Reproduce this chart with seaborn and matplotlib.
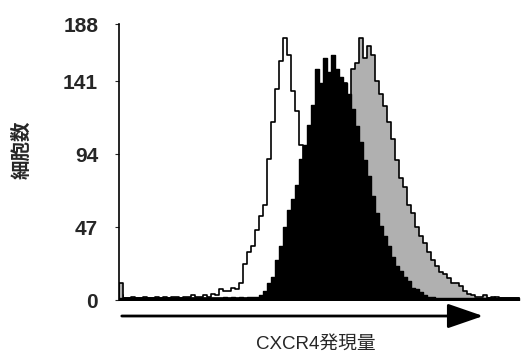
import numpy as np
import pandas as pd
import seaborn as sns
import matplotlib.pyplot as plt

# flow cytometry histograms, 100 channels (4 units wide each)
control = [3, 1, 1, 2, 1, 1, 2, 1, 1, 2,
           1, 2, 1, 2, 2, 1, 2, 2, 3, 2,
           2, 3, 2, 4, 3, 7, 6, 6, 8, 7,
           11, 23, 31, 35, 45, 54, 61, 91, 115, 136,
           154, 169, 158, 135, 122, 100, 82, 63, 45, 30,
           19, 11, 7, 4, 3, 2, 2, 1, 2, 1,
           1, 2, 1, 1, 2, 1, 1, 2, 1, 1,
           2, 1, 1, 1, 2, 1, 1, 1, 2, 1,
           1, 1, 2, 1, 1, 1, 1, 2, 1, 1,
           1, 1, 1, 2, 1, 1, 1, 1, 1, 1]

black = [1, 1, 1, 1, 1, 1, 1, 1, 1, 1,
         1, 1, 1, 1, 1, 1, 1, 1, 1, 1,
         1, 1, 1, 1, 1, 1, 2, 1, 2, 1,
         2, 1, 2, 2, 2, 3, 6, 11, 15, 26,
         35, 47, 58, 65, 74, 91, 100, 113, 126, 149,
         140, 156, 147, 158, 149, 144, 140, 133, 123, 112,
         102, 90, 80, 67, 56, 48, 41, 35, 28, 22,
         19, 15, 12, 8, 7, 5, 3, 2, 2, 1,
         1, 1, 1, 1, 1, 1, 1, 1, 1, 1,
         1, 1, 1, 1, 1, 1, 1, 1, 1, 1]

gray = [11, 1, 1, 1, 1, 1, 1, 1, 1, 1,
        1, 1, 1, 1, 1, 1, 1, 1, 1, 1,
        1, 1, 1, 1, 1, 1, 1, 1, 1, 1,
        1, 1, 1, 1, 1, 1, 1, 1, 1, 1,
        2, 3, 5, 7, 11, 17, 23, 32, 42, 52,
        63, 74, 86, 98, 110, 121, 140, 132, 149, 153,
        169, 156, 164, 158, 141, 133, 125, 115, 104, 90,
        79, 73, 61, 56, 47, 41, 37, 31, 26, 22,
        18, 17, 14, 11, 11, 9, 6, 4, 3, 2,
        2, 3, 1, 1, 2, 1, 1, 1, 1, 1]

ytick_vals = [0, 47, 94, 141, 178]
ytick_labels = ['0', '47', '94', '141', '188']

edges = list(range(0, 404, 4))
df = pd.DataFrame({'channel': np.array(edges[:-1]) + 2,
                   'control': control, 'black': black, 'gray': gray})

sns.set_style('white')
plt.rcParams['font.family'] = ['Liberation Sans', 'Noto Sans CJK JP']

fig = plt.figure(figsize=(5.23, 3.54), dpi=100)
ax = fig.add_axes([119 / 523, 54 / 354, 401 / 523, 276 / 354])

sns.histplot(data=df, x='channel', weights='control', bins=edges, element='step', fill=True,
             facecolor='white', edgecolor='black', linewidth=1.2, alpha=1, ax=ax)
sns.histplot(data=df, x='channel', weights='gray', bins=edges, element='step', fill=True,
             facecolor='#b0b0b0', edgecolor='black', linewidth=1.2, alpha=1, ax=ax)
sns.histplot(data=df, x='channel', weights='black', bins=edges, element='step', fill=True,
             facecolor='black', edgecolor='black', linewidth=1.0, alpha=1, ax=ax)

ax.set_xlim(0, 401)
ax.set_ylim(0, 178)
ax.set_xticks([])
ax.set_yticks(ytick_vals)
ax.set_yticklabels(ytick_labels, fontsize=15, fontweight='bold')
ax.tick_params(axis='y', length=3, width=0.8, pad=12, left=True)
ax.set_xlabel('')
ax.set_ylabel('')
for s in ['top', 'right', 'bottom']:
    ax.spines[s].set_visible(False)
ax.spines['left'].set_linewidth(1.2)
ax.spines['left'].set_color('black')

# axis arrow
ax.annotate('', xy=(0.915, -0.058), xytext=(0.0, -0.058), xycoords='axes fraction',
            arrowprops=dict(arrowstyle='-|>,head_length=1.1,head_width=0.38',
                            mutation_scale=20, lw=2, color='black'),
            annotation_clip=False)

ax.text(0.49, -0.16, 'CXCR4発現量', transform=ax.transAxes, ha='center', va='center',
        fontsize=13.5)
fig.text(22 / 523, 1 - 150 / 354, '細胞数', rotation=90, ha='center', va='center',
         fontsize=14, fontweight='bold', family=['Noto Sans CJK JP'])

fig.savefig('out.png', dpi=100)
